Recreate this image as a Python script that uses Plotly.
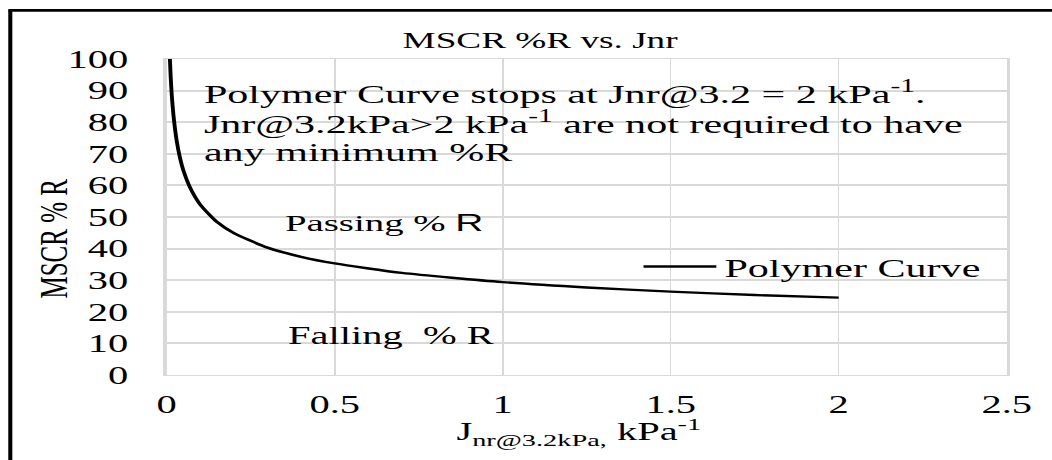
import plotly.graph_objects as go

# MSCR polymer curve: percent recovery vs. non-recoverable creep compliance
jnr = [0.0095, 0.012, 0.015, 0.02, 0.03, 0.04, 0.05, 0.07, 0.1, 0.15, 0.2,
       0.3, 0.4, 0.5, 0.7, 1.0, 1.25, 1.5, 1.75, 2.0]
pct_r = [100.0, 94.1, 88.7, 82.3, 73.9, 68.5, 64.6, 59.2, 53.9, 48.4, 44.9,
         40.3, 37.4, 35.3, 32.3, 29.4, 27.7, 26.4, 25.3, 24.5]

x_ticks = [0, 0.5, 1, 1.5, 2, 2.5]
x_tick_text = ["0", "0.5", "1", "1.5", "2", "2.5"]
y_ticks = [0, 10, 20, 30, 40, 50, 60, 70, 80, 90, 100]
y_tick_text = [str(v) for v in y_ticks]

note_lines = [
    "Polymer Curve stops at Jnr@3.2 = 2 kPa<sup>-1</sup>.",
    "Jnr@3.2kPa>2 kPa<sup>-1</sup> are not required to have",
    "any minimum %R",
]
note_line_y = [0.894, 0.799, 0.704]

SERIF = "Liberation Serif"
GRID = "#d9d9d9"
W, H = 650, 460
STRETCH = 1052 / W

fig = go.Figure()
fig.add_trace(go.Scatter(
    x=jnr, y=pct_r, mode="lines", name="Polymer Curve",
    line=dict(color="black", width=2.4, shape="spline", smoothing=0.6),
))

fig.update_layout(
    width=W, height=H, autosize=False,
    margin=dict(l=102.6, r=23, t=59.3, b=85),
    paper_bgcolor="white", plot_bgcolor="white",
    font=dict(family=SERIF, color="black", size=24),
    title=dict(text="MSCR %R vs. Jnr", x=0.5134, xanchor="center",
               y=0.913, yanchor="middle", yref="container",
               font=dict(family=SERIF, size=23, color="black")),
    xaxis=dict(range=[0, 2.5], tickvals=x_ticks, ticktext=x_tick_text,
               showgrid=True, gridcolor=GRID, gridwidth=1.2,
               zeroline=False, showline=True, mirror=True, linecolor=GRID,
               linewidth=1.2, ticks="", ticklabelstandoff=7,
               tickfont=dict(family=SERIF, size=25, color="black")),
    yaxis=dict(range=[0, 100], tickvals=y_ticks, ticktext=y_tick_text,
               showgrid=True, gridcolor=GRID, gridwidth=1.5,
               zeroline=False, showline=True, mirror=True, linecolor=GRID,
               linewidth=1.5, ticks="", ticklabelstandoff=17,
               tickfont=dict(family=SERIF, size=25, color="black")),
    showlegend=True,
    legend=dict(x=0.558, xanchor="left", y=0.343, yanchor="middle",
                bgcolor="rgba(0,0,0,0)", borderwidth=0, itemwidth=45,
                font=dict(family=SERIF, size=26, color="black")),
)

# Note about where the polymer curve ends, one annotation per line
for line_text, line_y in zip(note_lines, note_line_y):
    fig.add_annotation(
        text=line_text, xref="paper", yref="paper", x=0.040, y=line_y,
        xanchor="left", yanchor="middle", align="left", showarrow=False,
        font=dict(family=SERIF, size=26, color="black"),
    )
fig.add_annotation(
    text='Passing % <span style="font-family:Liberation Sans">R</span>',
    xref="paper", yref="paper", x=0.137, y=0.482,
    xanchor="left", yanchor="middle", showarrow=False,
    font=dict(family=SERIF, size=24, color="black"),
)
fig.add_annotation(
    text="Falling\u00a0 % R",
    xref="paper", yref="paper", x=0.141, y=0.125,
    xanchor="left", yanchor="middle", showarrow=False,
    font=dict(family=SERIF, size=25, color="black"),
)
# Axis labels
fig.add_annotation(
    text="MSCR % R", textangle=-90,
    xref="paper", yref="paper", x=-0.1348, y=0.432,
    xanchor="center", yanchor="middle", showarrow=False,
    font=dict(family=SERIF, size=25, color="black"),
)
fig.add_annotation(
    text="J<sub>nr@3.2kPa,</sub> kPa<sup>-1</sup>",
    xref="paper", yref="paper", x=0.491, y=-0.180,
    xanchor="center", yanchor="middle", showarrow=False,
    font=dict(family=SERIF, size=25, color="black"),
)

# Chart-area frame (left and top edges)
fig.add_shape(type="line", xref="paper", yref="paper",
              x0=-0.1862, x1=-0.1862, y0=1.154, y1=-0.35,
              line=dict(color="black", width=2.5), layer="above")
fig.add_shape(type="line", xref="paper", yref="paper",
              x0=-0.1885, x1=1.1, y0=1.154, y1=1.154,
              line=dict(color="black", width=2.7), layer="above")

post = """
var gd = document.getElementById('{plot_id}');
document.documentElement.style.overflow = 'hidden';
document.body.style.margin = '0';
document.body.style.overflow = 'hidden';
gd.querySelectorAll('text').forEach(function (t) {
    if (!t.textContent.trim()) { t.parentNode.removeChild(t); }
});
var tester = document.getElementById('js-plotly-tester');
if (tester) { tester.parentNode.removeChild(tester); }
gd.style.transformOrigin = '0 0';
gd.style.transform = 'scaleX(%.5f)';
""" % STRETCH

fig.write_html("out.html", post_script=post,
               default_width="%dpx" % W, default_height="%dpx" % H)
